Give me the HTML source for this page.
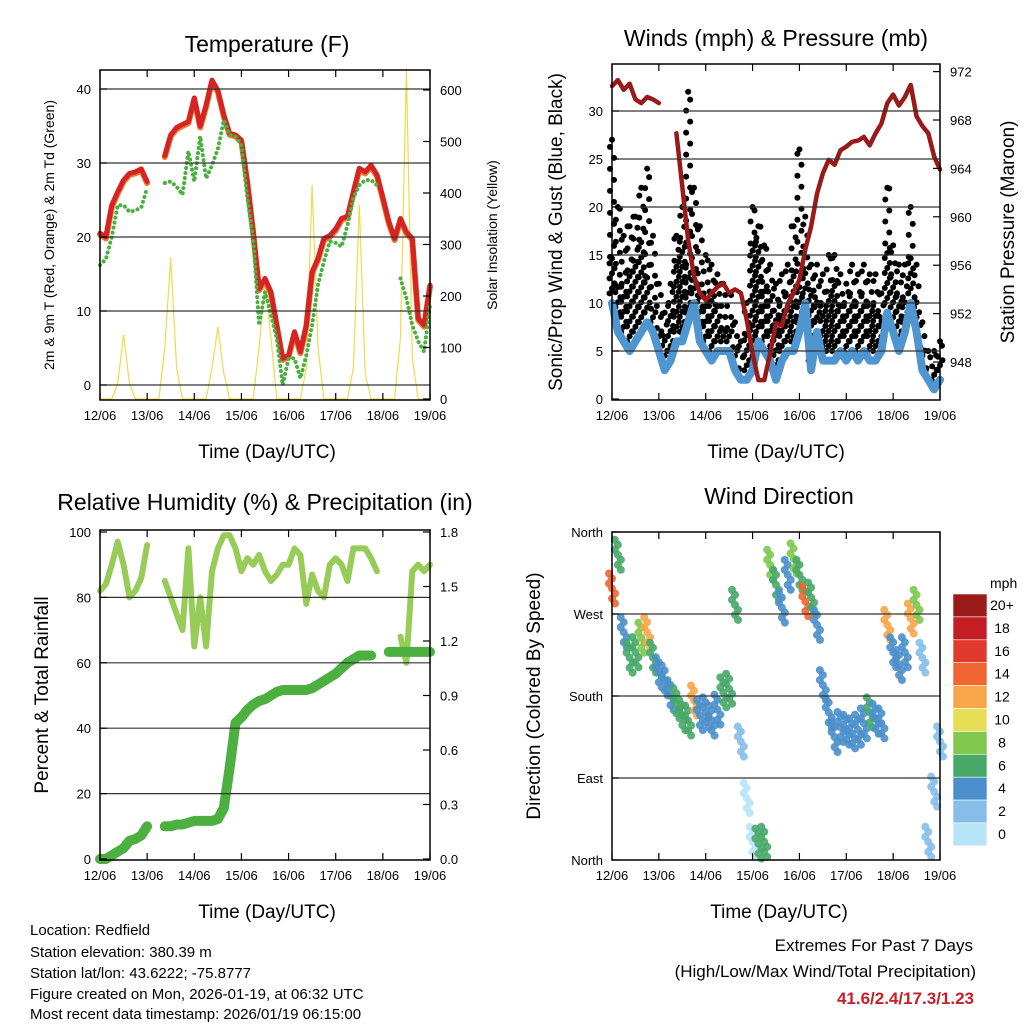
<!DOCTYPE html>
<html><head><meta charset="utf-8">
<style>
html,body{margin:0;padding:0;background:#fff;}
svg{display:block;font-family:"Liberation Sans",sans-serif;}
</style></head>
<body>
<svg id="c" width="1024" height="1024" viewBox="0 0 1024 1024" xmlns="http://www.w3.org/2000/svg">
<rect width="1024" height="1024" fill="#fff"/>
<g id="g"></g>
<text x="267" y="52" font-size="23" text-anchor="middle">Temperature (F)</text>
<text x="776" y="46" font-size="23" text-anchor="middle">Winds (mph) &amp; Pressure (mb)</text>
<text x="265" y="510" font-size="23" text-anchor="middle">Relative Humidity (%) &amp; Precipitation (in)</text>
<text x="779" y="504" font-size="23" text-anchor="middle">Wind Direction</text>
<text x="267" y="458" font-size="19" text-anchor="middle">Time (Day/UTC)</text>
<text x="776" y="458" font-size="19" text-anchor="middle">Time (Day/UTC)</text>
<text x="267" y="918" font-size="19" text-anchor="middle">Time (Day/UTC)</text>
<text x="779" y="918" font-size="19" text-anchor="middle">Time (Day/UTC)</text>
<text transform="translate(54,235) rotate(-90)" font-size="14" text-anchor="middle">2m &amp; 9m T (Red, Orange) &amp; 2m Td (Green)</text>
<text transform="translate(497,235) rotate(-90)" font-size="14" text-anchor="middle">Solar Insolation (Yellow)</text>
<text transform="translate(562,232) rotate(-90)" font-size="19" text-anchor="middle">Sonic/Prop Wind &amp; Gust (Blue, Black)</text>
<text transform="translate(1014,232) rotate(-90)" font-size="19" text-anchor="middle">Station Pressure (Maroon)</text>
<text transform="translate(48,695) rotate(-90)" font-size="19" text-anchor="middle">Percent &amp; Total Rainfall</text>
<text transform="translate(540,696) rotate(-90)" font-size="19" text-anchor="middle">Direction (Colored By Speed)</text>
<g font-size="15">
<text x="30" y="935">Location: Redfield</text>
<text x="30" y="957">Station elevation: 380.39 m</text>
<text x="30" y="978">Station lat/lon: 43.6222; -75.8777</text>
<text x="30" y="999">Figure created on Mon, 2026-01-19, at 06:32 UTC</text>
<text x="30" y="1019">Most recent data timestamp: 2026/01/19 06:15:00</text>
</g>
<g font-size="17" text-anchor="end">
<text x="973" y="951">Extremes For Past 7 Days</text>
<text x="976" y="977">(High/Low/Max Wind/Total Precipitation)</text>
<text x="974" y="1004" fill="#c8202a" font-weight="bold">41.6/2.4/17.3/1.23</text>
</g>
</svg>
<script>
var N=NaN;
var dayLabels=["12/06","13/06","14/06","15/06","16/06","17/06","18/06","19/06"];
var tempRed=[20.5,20,24.3,26.1,27.7,28.6,28.8,29.2,27.5,N,N,31,33.8,34.8,35.2,35.6,38.8,35,37.8,41.2,39.8,36.5,34,33.8,33.1,27.5,20.7,13,14.4,12.6,8.1,3.6,4,7.2,4.5,8.1,15.3,17.1,19.8,20.2,21.1,22.5,22.8,26.1,29.3,28.8,29.7,28.4,25.3,22.1,19.8,22.5,20.7,19.8,9,8.1,13.5];
var tempDew=[16.2,17,20,24.3,24.3,23.4,23.6,24,26.6,N,N,27.3,27.5,26.8,25.7,31.6,27.5,33.6,27.9,29.7,31.9,35.8,33.8,33.6,32.4,25.3,19.8,8.1,12.6,9.5,6.3,0,3.6,3.6,0.9,4,8.1,13.5,16.7,19.4,19.2,18.7,21.6,25.3,27,27.7,27.7,27,N,N,N,14.4,11.7,8.1,5.9,4.5,10.8];
var solar=[0,0,0,30,124,30,0,0,0,0,0,100,274,60,0,0,0,0,0,60,140,50,0,0,0,0,0,100,227,120,0,0,0,0,0,60,415,100,0,0,0,0,0,60,377,50,0,0,0,0,0,120,640,80,0,0,0];
var windSus=[10,7,6,5,6,7,8,7,5,3,4,6,6,8,10,6,5,4,5,5,5,3,2,2,3,6,5,4,2,4,5,5,7,10,3,7,4,4,4,5,4,5,4,5,4,4,5,9,7,5,7,10,7,3,2,1,2];
var windGust=[14,11,11,12,13,15,12,9,7,6,9,13,15,13,12,10,10,10,9,7,7,5,3,6,14,15,11,10,8,9,10,12,11,13,10,10,9,10,11,9,9,10,9,10,9,9,8,15,12,10,10,14,10,5,3,3,4];
var gustMax=[27,20,17,18,19,22,24,17,12,9,12,17,20,32,22,18,15,14,13,12,11,8,6,10,20,18,16,14,12,13,14,18,26,19,14,14,13,15,15,13,12,14,13,14,13,13,11,22,16,14,14,20,14,8,5,5,6];
var pressure=[970.8,971.3,970.5,971,969.7,969.4,969.9,969.7,969.4,N,N,966.9,962.5,958.1,955.1,953.7,953.1,953.7,954.2,954.5,953.7,954,953.7,951.5,948.7,946.5,946.5,948.7,951.2,951,952.8,953.7,954.8,957.3,959.2,961.9,963.6,964.7,964.3,965.5,965.8,966.2,966.3,966.6,965.9,966.9,967.7,969.4,970.1,969.2,969.9,970.9,968.3,967.5,966.9,965,963.9];
var rh=[82,84,90,97,90,80,82,86,96,N,N,85,80,75,70,95,65,80,65,88,95,99,99,95,88,92,90,93,88,85,87,90,90,95,93,78,87,82,80,90,92,90,85,95,95,95,92,88,N,N,N,68,60,88,90,88,90];
var precip=[0,0,0.02,0.04,0.06,0.1,0.11,0.13,0.18,N,N,0.18,0.18,0.19,0.19,0.2,0.21,0.21,0.21,0.21,0.22,0.28,0.5,0.75,0.78,0.82,0.85,0.87,0.88,0.9,0.92,0.93,0.93,0.93,0.93,0.93,0.94,0.96,0.98,1.0,1.02,1.05,1.08,1.1,1.12,1.12,1.12,N,N,1.14,1.14,1.14,1.14,1.14,1.14,1.14,1.14];
var windDir=[298,335,250,222,228,244,250,222,206,197,181,172,159,153,175,159,162,153,165,184,188,280,130,68,20,18,20,324,302,277,313,331,313,284,288,258,192,162,135,146,143,139,143,150,162,155,150,258,228,214,228,265,280,222,20,75,130];
var dirSpeed=[14,7,4,7,7,9,12,6,4,4,4,6,7,6,13,5,5,4,5,7,6,6,2,1,1,7,7,9,7,4,5,8,7,14,7,4,5,4,4,5,4,4,5,5,6,4,4,12,4,4,4,12,9,2,2,3,3];
var cbLabels=["20+","18","16","14","12","10","8","6","4","2","0"];
var cbColors=["#9b1a1a","#c41e24","#e03a2c","#f06530","#f7a64a","#e8de55","#80c850","#48a868","#4a8fcb","#85bfe8","#b8e4f8"];

var NS="http://www.w3.org/2000/svg",G=document.getElementById('g');
function mk(t,a,p){var e=document.createElementNS(NS,t);for(var k in a)e.setAttribute(k,a[k]);(p||G).appendChild(e);return e;}
function times(){var r=[];for(var i=0;i<57;i++)r.push(i*0.125);return r;}
var T=times();
function panel(x0,x1,y0,y1){return {x0:x0,x1:x1,y0:y0,y1:y1,sx:function(d){return x0+(x1-x0)*d/7;}};}
function line(P,vals,fy,col,w,name){var d="",pen=false;for(var i=0;i<vals.length;i++){if(isNaN(vals[i])){pen=false;continue;}d+=(pen?"L":"M")+P.sx(T[i]).toFixed(1)+","+fy(vals[i]).toFixed(1);pen=true;}
 var e=mk('path',{d:d,fill:'none',stroke:col,'stroke-width':w,'stroke-linejoin':'round','stroke-linecap':'round'});
 
 return e;}
function frame(P,name,lt,fl,rt,fr,grid){
 var g=mk('g',{});
 for(var i=0;i<lt.length;i++){var y=fl(lt[i].v);if(grid&&y>P.y0+2&&y<P.y1-2)mk('line',{x1:P.x0,x2:P.x1,y1:y,y2:y,stroke:'#333','stroke-width':1.2},g);
  mk('line',{x1:P.x0,x2:P.x0+7,y1:y,y2:y,stroke:'#000','stroke-width':1.2},g);
  var t=mk('text',{x:P.x0-9,y:y+5,'font-size':13,'text-anchor':'end'},g);t.textContent=lt[i].l;}
 for(i=0;i<rt.length;i++){y=fr(rt[i].v);mk('line',{x1:P.x1-7,x2:P.x1,y1:y,y2:y,stroke:'#000','stroke-width':1.2},g);
  t=mk('text',{x:P.x1+10,y:y+5,'font-size':13},g);t.textContent=rt[i].l;}
 for(i=0;i<8;i++){var x=P.sx(i);mk('line',{x1:x,x2:x,y1:P.y1-7,y2:P.y1,stroke:'#000','stroke-width':1.2},g);mk('line',{x1:x,x2:x,y1:P.y0,y2:P.y0+7,stroke:'#000','stroke-width':1.2},g);
  t=mk('text',{x:x,y:P.y1+20,'font-size':13,'text-anchor':'middle'},g);t.textContent=dayLabels[i];}
 mk('rect',{x:P.x0,y:P.y0,width:P.x1-P.x0,height:P.y1-P.y0,fill:'none',stroke:'#000','stroke-width':1.5},g);}
function ticks(a,fmt){return a.map(function(v){return {v:v,l:fmt?fmt(v):String(v)};});}

// Panel 1
var P1=panel(100,430,70,400);
var fT=function(v){return 385-v*7.4;},fS=function(v){return 399-v*0.515;};
line(P1,solar,fS,'#f5d84a',1.2,'solar-line');
line(P1,tempRed,function(v){return fT(v)+1.5;},'#f07a30',6,'temp-9m-line');
line(P1,tempRed,fT,'#d42424',5,'temp-2m-line');
var dl=line(P1,tempDew,fT,'#4ab040',4,'dewpoint-line');dl.setAttribute('stroke-dasharray','0.1 5');
frame(P1,'temperature-axes',ticks([0,10,20,30,40]),fT,ticks([0,100,200,300,400,500,600]),fS,true);

// Panel 2
var P2=panel(612,940,64,400);
var fW=function(v){return 399-v*9.6;},fP=function(v){return 362-(v-948)*12.1;};
var gw=mk('g',{});
for(var i=0;i<57;i++){var x=P2.sx(T[i]);var ya=fW(windGust[i]+(windGust[i]-windSus[i])*0.2),yb=fW(windSus[i]+1);
 for(var yy=yb,j=0;yy>=ya;yy-=5,j++)mk('circle',{cx:x+((j%3)-1)*2.5,cy:yy,r:3},gw);
 for(yy=ya,j=0;yy>=fW(gustMax[i]);yy-=11,j++)mk('circle',{cx:x+(j%2?2:-2),cy:yy,r:3},gw);
 mk('circle',{cx:x,cy:fW(gustMax[i]),r:3},gw);}
line(P2,windSus,fW,'#4f95d0',8,'wind-sustained-line');
line(P2,pressure,fP,'#9a1a1a',4.5,'pressure-line');
frame(P2,'winds-axes',ticks([0,5,10,15,20,25,30]),fW,ticks([948,952,956,960,964,968,972]),fP,true);

// Panel 3
var P3=panel(100,430,530,860);
var fR=function(v){return 859-v*3.27;},fPr=function(v){return 859-v*327/1.8;};
line(P3,rh,fR,'#98cc58',6,'rh-line');
line(P3,precip,fPr,'#4cb040',10,'precip-line');
frame(P3,'rh-axes',ticks([0,20,40,60,80,100]),fR,ticks([0,0.3,0.6,0.9,1.2,1.5,1.8],function(v){return v.toFixed(1);}),fPr,true);

// Panel 4
var P4=panel(612,940,532,860);
var fD=function(v){return 860-v*328/360;};
function spdColor(s){var k=Math.min(10,Math.floor(s/2));return cbColors[10-k];}
var gd=mk('g',{});
for(i=0;i<57;i++){x=P4.sx(T[i]);for(var k=-3;k<=3;k++){
 var c=mk('circle',{cx:x+(k%2)*3,cy:fD(windDir[i])+k*5,r:4,fill:spdColor(dirSpeed[i]),opacity:0.9},gd);
 
 }}
var dirT=[{v:0,l:"North"},{v:90,l:"East"},{v:180,l:"South"},{v:270,l:"West"},{v:360,l:"North"}];
frame(P4,'direction-axes',dirT,fD,[],fD,true);

// Colorbar
var cb=mk('g',{});
var mt=mk('text',{x:990,y:588,'font-size':14},cb);mt.textContent='mph';
for(i=0;i<11;i++){var y=594+i*22.9;mk('rect',{x:953,y:y,width:34,height:22.9,fill:cbColors[i],stroke:'#fff','stroke-width':0.6},cb);
 var t=mk('text',{x:1002,y:y+16,'font-size':14,'text-anchor':'middle'},cb);t.textContent=cbLabels[i];}
</script>
</body></html>
